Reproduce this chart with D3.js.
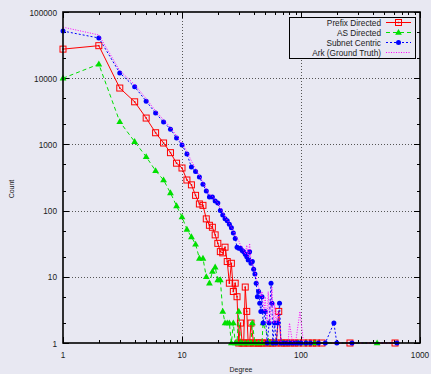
<!DOCTYPE html>
<html>
<head>
<meta charset="utf-8">
<script src="https://cdn.jsdelivr.net/npm/d3@7"></script>
<style>
  html, body { margin: 0; padding: 0; background: #e8e8f2; }
  svg { display: block; }
  text { font-family: "Liberation Sans", Arial, sans-serif; fill: #1a1a1a; }
</style>
</head>
<body>
<svg id="chart" width="431" height="374"></svg>
<script>
// Degree distribution, log-log

const prefixDeg   = [1,2,3,4,5,6,7,8,9,10,11,12,13,14,15,16,17,18,19,20,21,22,23,24,25,26,27,28,29,30,31,32,33,34,35,36,37,38,40,42,44,46,48,52,55,58,62,65,68,72,76,82,88,95,105,115,125,135,150,258,617];
const prefixCount = [27500,31000,7100,4400,2500,1500,1050,750,520,440,290,245,170,126,120,75,60,56,43,32,24,23,28,17,8,16,6,8,5,1,2,1,1,7,3,1,1,2,1,1,1,1,1,1,1,1,1,3,1,1,1,1,1,1,1,1,1,1,1,1,1];

const asDeg   = [1,2,3,4,5,6,7,8,9,10,11,12,13,14,15,16,17,18,19,20,21,22,23,24,25,26,27,28,29,30,31,32,34,36,38,39,41,44,47,48,55,60,70,80,95,110,130,436];
const asCount = [10000,16300,2200,1100,650,400,290,185,118,80,52,40,31,19,19,10,8,12,14,9,9,3,2,2,2,1,2,1,1,3,1,1,1,1,1,2,1,1,1,2,1,1,1,1,1,1,1,1];

const subnetDeg   = [1,2,3,4,5,6,7,8,9,10,11,12,13,14,15,16,17,18,19,20,21,22,23,24,25,26,27,28,29,30,31,32,33,34,35,36,37,38,39,40,41,42,43,44,45,46,47,48,50,52,54,56,57,58,60,62,64,66,68,72,76,80,85,90,95,100,110,120,140,160,189,200,268,640];
const subnetCount = [51500,40500,12000,7400,4500,2970,2180,1700,1250,980,715,455,390,323,250,197,161,161,140,130,100,86,75,70,62,55,46,38,28,27,27,25,24,22,20,18,24,16,17,13,11,8,5,6,4,3,5,2,3,1,2,8,4,1,2,1,2,4,1,1,1,1,1,1,1,1,1,1,1,1,2,1,1,1];

const arkDeg   = [1,2,3,4,5,6,7,8,9,10,11,12,13,14,15,16,17,18,19,20,21,22,23,24,25,26,27,28,29,30,31,32,33,34,35,36,37,38,39,40,41,42,43,44,45,46,47,48,49,50,51,52,53,54,55,56,57,58,59,60,62,64,66,68,70,72,75,78,80,85,90,98,105,115,130];
const arkCount = [59000,45000,13000,8000,4900,3200,2350,1800,1350,1050,780,560,430,340,270,215,175,165,145,130,110,95,80,72,64,56,50,42,38,35,30,28,25,22,30,20,32,18,15,14,12,10,8,7,6,5,6,4,3,5,3,2,6,3,2,4,7,3,2,4,2,3,2,1,1,1,1,1,2,1,1,3,1,1,1];

const seriesNames = ["Prefix Directed", "AS Directed", "Subnet Centric", "Ark (Ground Truth)"];
const seriesColors = ["#ff0000", "#00e000", "#0000ff", "#ff00ff"];

const xTickValues = [1, 10, 100, 1000];
const xTickLabels = ["1", "10", "100", "1000"];
const yTickValues = [1, 10, 100, 1000, 10000, 100000];
const yTickLabels = ["1", "10", "100", "1000", "10000", "100000"];

const W = 431, H = 374;
const margin = { left: 63, right: 11, top: 12, bottom: 31 };
const svg = d3.select("#chart");

const x = d3.scaleLog().domain([1, 1000]).range([margin.left, W - margin.right]);
const y = d3.scaleLog().domain([1, 100000]).range([H - margin.bottom, margin.top]);

const x0 = x.range()[0], x1 = x.range()[1];
const y0 = y.range()[0], y1 = y.range()[1];

const FS = 9.5, SX = 0.87;
function label(g, px, py, str, anchor, size, rot) {
  return g.append("text")
    .attr("transform", `translate(${px},${py})` + (rot ? ` rotate(${rot})` : "") + ` scale(${SX},1)`)
    .attr("text-anchor", anchor)
    .style("font-size", (size || FS) + "px")
    .text(str);
}

// background
svg.append("rect").attr("width", W).attr("height", H).attr("fill", "#e8e8f2");

// grid at inner decades
const grid = svg.append("g").attr("stroke", "#555").attr("stroke-width", 1).attr("stroke-dasharray", "1,2");
xTickValues.filter(v => v > 1 && v < 1000).forEach(v => {
  grid.append("line").attr("x1", Math.round(x(v)) + 0.5).attr("x2", Math.round(x(v)) + 0.5).attr("y1", y1).attr("y2", y0);
});
yTickValues.filter(v => v > 1 && v < 100000).forEach(v => {
  grid.append("line").attr("y1", Math.round(y(v)) + 0.5).attr("y2", Math.round(y(v)) + 0.5).attr("x1", x0).attr("x2", x1);
});

// ticks (mirrored on all four sides, pointing inward)
const ticks = svg.append("g").attr("stroke", "#000").attr("stroke-width", 1);
const xMinor = [];
[1, 10, 100].forEach(d => { for (let k = 2; k <= 9; k++) xMinor.push(d * k); });
const yMinor = [];
[1, 10, 100, 1000, 10000].forEach(d => { yMinor.push(d * 2, d * 5); });

function xTick(v, len) {
  const px = Math.round(x(v)) + 0.5;
  ticks.append("line").attr("x1", px).attr("x2", px).attr("y1", y0).attr("y2", y0 - len);
  ticks.append("line").attr("x1", px).attr("x2", px).attr("y1", y1).attr("y2", y1 + len);
}
function yTick(v, len) {
  const py = Math.round(y(v)) + 0.5;
  ticks.append("line").attr("y1", py).attr("y2", py).attr("x1", x0).attr("x2", x0 + len);
  ticks.append("line").attr("y1", py).attr("y2", py).attr("x1", x1).attr("x2", x1 - len);
}
xTickValues.forEach(v => xTick(v, 6));
xMinor.forEach(v => xTick(v, 3));
yTickValues.forEach(v => yTick(v, 6));
yMinor.forEach(v => yTick(v, 3));

// tick labels
const labels = svg.append("g");
xTickValues.forEach((v, i) => label(labels, x(v), y0 + 15, xTickLabels[i], "middle"));
yTickValues.forEach((v, i) => label(labels, x0 - 6, y(v) + 3.5, yTickLabels[i], "end"));

// axis titles
label(labels, 241, 372, "Degree", "middle", 8);
label(labels, 14, 189, "Count", "middle", 8, -90);

// series
const series = [
  { deg: prefixDeg, cnt: prefixCount, dash: null, marker: "square" },
  { deg: asDeg, cnt: asCount, dash: "4,3", marker: "triangle" },
  { deg: subnetDeg, cnt: subnetCount, dash: "2,2", marker: "circle" },
  { deg: arkDeg, cnt: arkCount, dash: "1,1.5", marker: null }
];

const line = d3.line().x(d => x(d[0])).y(d => y(d[1]));
const plot = svg.append("g");

function drawMarker(g, kind, px, py, color) {
  if (kind === "square") {
    g.append("rect").attr("x", px - 3).attr("y", py - 3).attr("width", 6).attr("height", 6)
      .attr("fill", "none").attr("stroke", color).attr("stroke-width", 1);
    g.append("rect").attr("x", px - 0.75).attr("y", py - 0.75).attr("width", 1.5).attr("height", 1.5).attr("fill", color);
  } else if (kind === "triangle") {
    g.append("path").attr("d", `M${px},${py - 3.6}L${px + 3.4},${py + 2.3}L${px - 3.4},${py + 2.3}Z`).attr("fill", color);
  } else if (kind === "circle") {
    g.append("circle").attr("cx", px).attr("cy", py).attr("r", 2.5).attr("fill", color);
  }
}

series.forEach((s, i) => {
  const pts = s.deg.map((d, j) => [d, s.cnt[j]]);
  const g = plot.append("g");
  g.append("path").attr("d", line(pts)).attr("fill", "none")
    .attr("stroke", seriesColors[i]).attr("stroke-width", 1)
    .attr("stroke-dasharray", s.dash);
  if (s.marker) pts.forEach(p => drawMarker(g, s.marker, x(p[0]), y(p[1]), seriesColors[i]));
});

// plot border
svg.append("rect").attr("x", x0).attr("y", y1).attr("width", x1 - x0).attr("height", y0 - y1)
  .attr("fill", "none").attr("stroke", "#000").attr("stroke-width", 1.6);

// legend
const leg = svg.append("g");
leg.append("rect").attr("x", 289.5).attr("y", 17.5).attr("width", 126).attr("height", 41)
  .attr("fill", "#e8e8f2").attr("stroke", "#000").attr("stroke-width", 1);
const rowY = [22.5, 32.5, 42.5, 52.5];
seriesNames.forEach((name, i) => {
  label(leg, 381, rowY[i] + 3.5, name, "end");
  leg.append("line").attr("x1", 386).attr("x2", 411).attr("y1", rowY[i]).attr("y2", rowY[i])
    .attr("stroke", seriesColors[i]).attr("stroke-width", 1).attr("stroke-dasharray", series[i].dash);
  if (series[i].marker) drawMarker(leg, series[i].marker, 398.5, rowY[i], seriesColors[i]);
});
</script>
</body>
</html>
